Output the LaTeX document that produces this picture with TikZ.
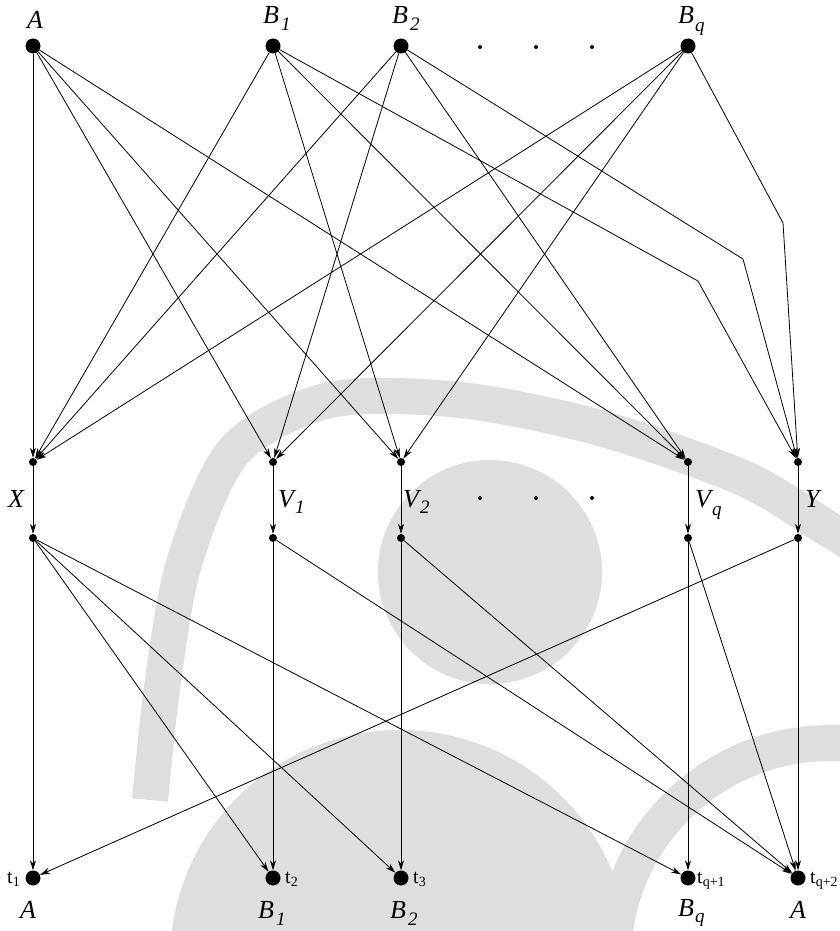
\documentclass[tikz,border=0pt]{standalone}
\usepackage{fontspec}
\setmainfont{Liberation Serif}
\usetikzlibrary{arrows.meta}
\newcommand\lsub[2]{\raisebox{#1}{\fontsize{19}{19}\selectfont\itshape #2}}
\newcommand\tsub[1]{\raisebox{-3pt}{\fontsize{14}{14}\selectfont #1}}
\begin{document}
\begin{tikzpicture}[x=1pt,y=-1pt,
  big/.style={circle,fill=black,inner sep=0pt,minimum size=15pt},
  sm/.style={circle,fill=black,inner sep=0pt,minimum size=8pt},
  el/.style={circle,fill=black,inner sep=0pt,minimum size=4pt},
  link/.style={line width=0.8pt,-{Stealth[length=10pt,width=6pt,inset=3pt]}},
  lab/.style={font=\fontsize{26}{26}\selectfont\itshape,inner sep=0pt,anchor=base west},
  tl/.style={font=\fontsize{20}{20}\selectfont,inner sep=0pt,anchor=base west},
  wm/.style={fill=black!13,draw=none},
  wmband/.style={draw=black!13,line width=36pt}]
\useasboundingbox (0,0) rectangle (840,931);
\fill[white] (0,0) rectangle (840,931);
% watermark (approximate)
\fill[wm] (490,572) circle[radius=112];
\fill[wm] (400,960) circle[radius=230];
\draw[wmband] plot[smooth] coordinates {(150,800) (163,680) (185,560) (235,450) (330,400) (460,400) (600,428) (743,478) (830,530) (860,548)};
\draw[wmband] (830,960) circle[radius=217];
% top nodes
\node[big] (A) at (33,46) {};
\node[big] (B1) at (273,46) {};
\node[big] (B2) at (401,46) {};
\node[big] (Bq) at (688,46) {};
\node[el] (e1) at (480,47) {};
\node[el] (e2) at (536,47) {};
\node[el] (e3) at (592,47) {};
% middle nodes
\node[sm] (X) at (33,462) {};
\node[sm] (V1) at (273,462) {};
\node[sm] (V2) at (401,462) {};
\node[sm] (Vq) at (688,462) {};
\node[sm] (Y) at (798,462) {};
\node[sm] (Xb) at (33,538) {};
\node[sm] (V1b) at (273,538) {};
\node[sm] (V2b) at (401,538) {};
\node[sm] (Vqb) at (688,538) {};
\node[sm] (Yb) at (798,538) {};
\node[el] (m1) at (480,498) {};
\node[el] (m2) at (536,498) {};
\node[el] (m3) at (592,498) {};
% bottom nodes
\node[big] (t1) at (33,878) {};
\node[big] (t2) at (273,878) {};
\node[big] (t3) at (401,878) {};
\node[big] (tq1) at (688,878) {};
\node[big] (tq2) at (798,878) {};
% bends
\coordinate (k1) at (698,281);
\coordinate (k2) at (743,259);
\coordinate (k3) at (783,223);
% labels
\node[lab] (lA) at (27,29) {A};
\node[lab] (lB1) at (263,24) {B\kern2pt\lsub{-7pt}{1}};
\node[lab] (lB2) at (392,24) {B\kern2pt\lsub{-7pt}{2}};
\node[lab] (lBq) at (678,24) {B\kern1pt\lsub{-8pt}{q}};
\node[lab] (lX) at (8,507) {X};
\node[lab] (lV1) at (278,507) {V\kern1pt\lsub{-6pt}{1}};
\node[lab] (lV2) at (403,507) {V\kern1pt\lsub{-6pt}{2}};
\node[lab] (lVq) at (695,507) {V\kern1pt\lsub{-8pt}{q}};
\node[lab] (lY) at (805,507) {Y};
\node[lab] (bA) at (20,918) {A};
\node[lab] (bB1) at (258,918) {B\kern2pt\lsub{-7pt}{1}};
\node[lab] (bB2) at (390,918) {B\kern2pt\lsub{-7pt}{2}};
\node[lab] (bBq) at (678,916) {B\kern1pt\lsub{-6pt}{q}};
\node[lab] (bA2) at (790,918) {A};
\node[tl] (lt1) at (7,883) {t\tsub{1}};
\node[tl] (lt2) at (285,883) {t\tsub{2}};
\node[tl] (lt3) at (413,883) {t\tsub{3}};
\node[tl] (ltq1) at (697,883) {t\tsub{q+1}};
\node[tl] (ltq2) at (810,883) {t\tsub{q+2}};
% top edges
\draw[link] (A) -- (X);
\draw[link] (A) -- (V1);
\draw[link] (A) -- (V2);
\draw[link] (A) -- (Vq);
\draw[link] (B1) -- (X);
\draw[link] (B1) -- (V2);
\draw[link] (B1) -- (Vq);
\draw[link] (B1) -- (k1) -- (Y);
\draw[link] (B2) -- (X);
\draw[link] (B2) -- (V1);
\draw[link] (B2) -- (Vq);
\draw[link] (B2) -- (k2) -- (Y);
\draw[link] (Bq) -- (X);
\draw[link] (Bq) -- (V1);
\draw[link] (Bq) -- (V2);
\draw[link] (Bq) -- (k3) -- (Y);
% middle edges
\draw[link] (X) -- (Xb);
\draw[link] (V1) -- (V1b);
\draw[link] (V2) -- (V2b);
\draw[link] (Vq) -- (Vqb);
\draw[link] (Y) -- (Yb);
% bottom edges
\draw[link] (Xb) -- (t1);
\draw[link] (Xb) -- (t2);
\draw[link] (Xb) -- (t3);
\draw[link] (Xb) -- (tq1);
\draw[link] (V1b) -- (t2);
\draw[link] (V1b) -- (tq2);
\draw[link] (V2b) -- (t3);
\draw[link] (V2b) -- (tq2);
\draw[link] (Vqb) -- (tq1);
\draw[link] (Vqb) -- (tq2);
\draw[link] (Yb) -- (tq2);
\draw[link] (Yb) -- (t1);
\end{tikzpicture}
\end{document}
